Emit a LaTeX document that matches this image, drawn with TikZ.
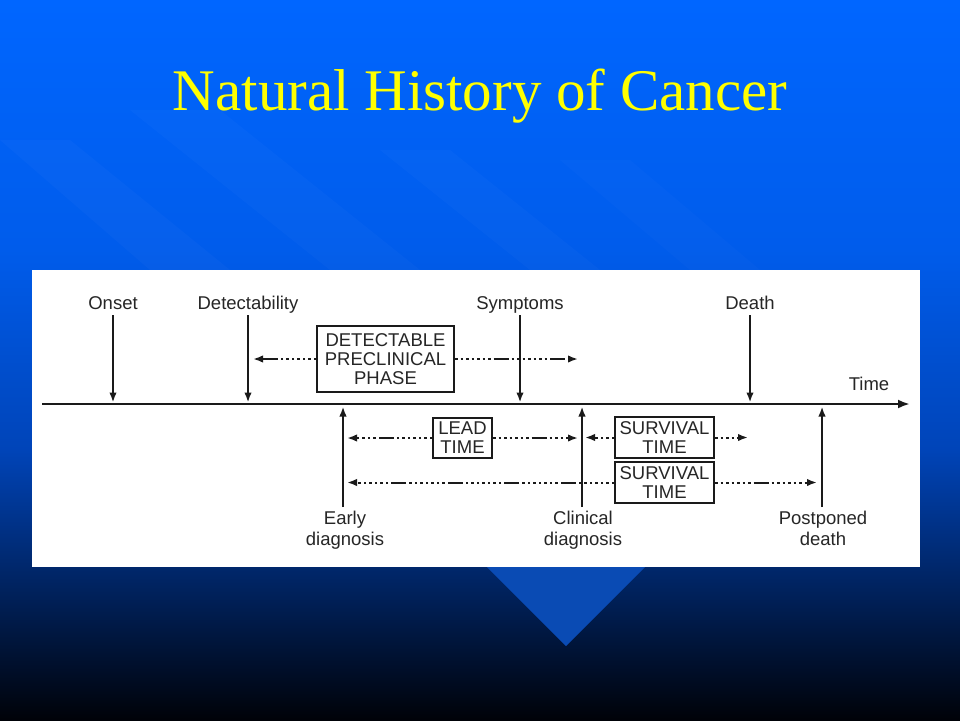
\documentclass[tikz,border=0pt]{standalone}
\usepackage{fontspec}
\setmainfont{Liberation Serif}
\newfontfamily\diagfont{Liberation Sans}
\usetikzlibrary{arrows.meta}
\definecolor{bgtop}{HTML}{0066FF}
\definecolor{bgmid}{HTML}{005CEB}
\definecolor{bglow}{HTML}{0044B8}
\definecolor{bgbot}{HTML}{000208}
\definecolor{tricol}{HTML}{0A4BB4}
\definecolor{labelgray}{HTML}{262626}
\definecolor{linegray}{HTML}{1A1A1A}
\definecolor{titleyellow}{HTML}{FFFF00}
\begin{document}
\begin{tikzpicture}[x=1pt,y=-1pt,
  lbl/.style={font=\diagfont\fontsize{18.5}{21}\selectfont, text=labelgray, inner sep=0pt, align=center},
  phasebox/.style={draw=linegray, line width=2pt, font=\diagfont\fontsize{18.5}{19}\selectfont, text=labelgray, inner sep=0pt, align=center},
  axisline/.style={line width=2.4pt, draw=linegray, -{Latex[length=12pt,width=9pt]}},
  marker/.style={line width=2pt, draw=linegray, -{Latex[length=10pt,width=7.5pt]}},
  dotconn/.style={line width=2pt, draw=linegray,
    dash pattern=on 2.5pt off 3pt on 2.5pt off 3pt on 2.5pt off 3pt on 2.5pt off 3pt on 2.5pt off 3pt on 2.5pt off 3pt on 2.5pt off 3pt on 15pt off 3pt,
    -{Latex[length=10pt,width=7.5pt]}},
  titlestyle/.style={font=\fontsize{59}{59}\selectfont, inner sep=0pt, anchor=base},
]
% background
\useasboundingbox (0,0) rectangle (960,720);
\shade[top color=bgtop, bottom color=bgmid] (0,0) rectangle (960,250.5);
\shade[top color=bgmid, bottom color=bglow] (0,250) rectangle (960,450.5);
\shade[top color=bglow, bottom color=bgbot] (0,450) rectangle (960,720);
% faint diagonal light bands
\fill[white, opacity=0.022] (0,140) -- (70,140) -- (230,270) -- (150,270) -- cycle;
\fill[white, opacity=0.02] (130,110) -- (220,110) -- (420,270) -- (330,270) -- cycle;
\fill[white, opacity=0.018] (380,150) -- (450,150) -- (600,270) -- (530,270) -- cycle;
\fill[white, opacity=0.015] (560,160) -- (630,160) -- (760,270) -- (690,270) -- cycle;
% pointer triangle under the panel
\fill[tricol] (480,560) -- (652,560) -- (566,646) -- cycle;
% title
\node[titlestyle, text=titleyellow] (title) at (480,110) {Natural History of Cancer};
% white panel
\fill[white] (32,270) rectangle (920,567);
% time axis
\coordinate (t0) at (42,404);
\coordinate (t1) at (910,404);
\draw[axisline] (t0) -- (t1);
\node[lbl, anchor=base] (time) at (869,390) {Time};
% top events
\node[lbl, anchor=base] (onset) at (113,309) {Onset};
\node[lbl, anchor=base] (detect) at (248,309) {Detectability};
\node[lbl, anchor=base] (sympt) at (520,309) {Symptoms};
\node[lbl, anchor=base] (death) at (750,309) {Death};
\foreach \n in {onset,detect,sympt,death}{
  \draw[marker, shorten >=1.5pt] ([yshift=-6pt]\n.base) -- (\n.base |- t0);
}
% detectable preclinical phase
\node[phasebox, minimum width=137pt, minimum height=66pt] (dpp) at (385.5,359)
  {DETECTABLE\\PRECLINICAL\\PHASE};
\coordinate (dppend) at (578,359);
\draw[dotconn, shorten >=5pt] (dpp.west) -- (detect.base |- dpp.west);
\draw[dotconn] (dpp.east) -- (dppend);
% bottom events
\node[lbl, anchor=north] (early) at (345,511) {Early\\diagnosis};
\node[lbl, anchor=north] (clin) at (583,511) {Clinical\\diagnosis};
\node[lbl, anchor=north] (post) at (823,511) {Postponed\\death};
\coordinate (earlyx) at (343,507);
\coordinate (clinx) at (582,507);
\coordinate (postx) at (822,507);
\foreach \c in {earlyx,clinx,postx}{
  \draw[marker, shorten >=2.5pt] (\c) -- (\c |- t0);
}
% lead time and survival times
\node[phasebox, minimum width=59pt, minimum height=40pt] (lead) at (462.5,438) {LEAD\\TIME};
\node[phasebox, minimum width=99pt, minimum height=41pt] (surv1) at (664.5,437.5) {SURVIVAL\\TIME};
\node[phasebox, minimum width=99pt, minimum height=41pt] (surv2) at (664.5,482.5) {SURVIVAL\\TIME};
\coordinate (surv1end) at (748,437.5);
\draw[dotconn, shorten >=4pt] (lead.west) -- (earlyx |- lead.west);
\draw[dotconn, shorten >=4pt] (lead.east) -- (clinx |- lead.east);
\draw[dotconn, shorten >=3pt] (surv1.west) -- (clinx |- surv1.west);
\draw[dotconn] (surv1.east) -- (surv1end);
\draw[dotconn, shorten >=4pt] (surv2.west) -- (earlyx |- surv2.west);
\draw[dotconn, shorten >=5pt] (surv2.east) -- (postx |- surv2.east);
\end{tikzpicture}
\end{document}
